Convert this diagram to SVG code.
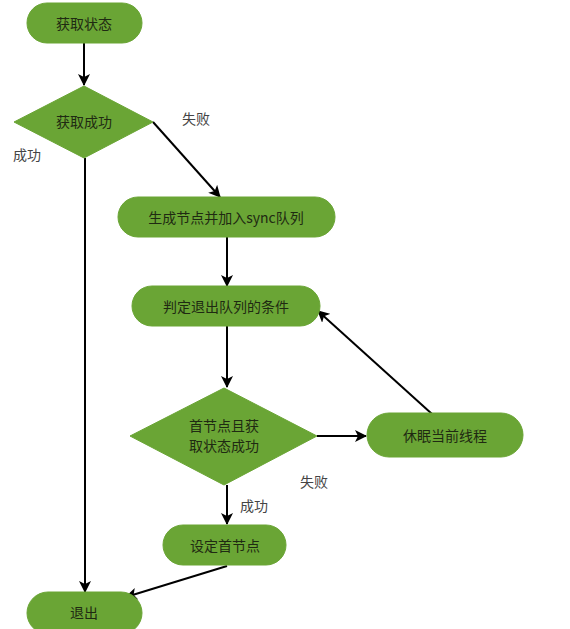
<svg xmlns="http://www.w3.org/2000/svg" width="570" height="629" viewBox="0 0 570 629">
<defs>
<marker id="arr" markerWidth="12" markerHeight="12" refX="11" refY="6" orient="auto" markerUnits="userSpaceOnUse">
<path d="M0,0 L12,6 L0,12 L3,6 Z" fill="#000"/>
</marker>
<style>
.n{fill:#6aa535;stroke:#6aa535}
.t{font-family:"Noto Sans CJK SC","Noto Sans",sans-serif;font-size:14px;fill:#1f2a12;text-anchor:middle;dominant-baseline:central}
.l{font-family:"Noto Sans CJK SC","Noto Sans",sans-serif;font-size:14px;fill:#444;text-anchor:middle;dominant-baseline:central}
.c{stroke:#000;stroke-width:2;fill:none;marker-end:url(#arr)}
</style>
</defs>
<rect width="570" height="629" fill="#fff"/>
<g id="connectors">
<line class="c" x1="84" y1="43" x2="84" y2="85"/>
<line class="c" x1="153" y1="122" x2="220" y2="197"/>
<line class="c" x1="85" y1="158" x2="85" y2="592"/>
<line class="c" x1="227" y1="237" x2="227" y2="286"/>
<line class="c" x1="227" y1="326" x2="227" y2="387"/>
<line class="c" x1="317" y1="436" x2="366" y2="436"/>
<line class="c" x1="432" y1="414" x2="318" y2="311"/>
<line class="c" x1="227" y1="485" x2="227" y2="524"/>
<line class="c" x1="227" y1="566" x2="126" y2="597"/>
</g>
<g id="n1"><rect class="n" x="27" y="3" width="115" height="40" rx="20"/><text class="t" x="84" y="23">获取状态</text></g>
<g id="n2"><polygon class="n" points="84,86 153,122 84,158 14,122"/><text class="t" x="84" y="121">获取成功</text></g>
<g id="n3"><rect class="n" x="118" y="197" width="217" height="40" rx="20"/><text class="t" x="226" y="217">生成节点并加入sync队列</text></g>
<g id="n4"><rect class="n" x="132" y="286" width="188" height="40" rx="20"/><text class="t" x="226" y="306">判定退出队列的条件</text></g>
<g id="n5"><polygon class="n" points="224,388 317,436 224,485 130,436"/><text class="t" x="224" y="425">首节点且获</text><text class="t" x="224" y="445">取状态成功</text></g>
<g id="n6"><rect class="n" x="367" y="413" width="156" height="44" rx="22"/><text class="t" x="445" y="435">休眠当前线程</text></g>
<g id="n7"><rect class="n" x="163" y="525" width="123" height="40" rx="20"/><text class="t" x="225" y="545">设定首节点</text></g>
<g id="n8"><rect class="n" x="27" y="592" width="115" height="42" rx="21"/><text class="t" x="84" y="612">退出</text></g>
<g id="labels">
<text class="l" x="196" y="118">失败</text>
<text class="l" x="27" y="154">成功</text>
<text class="l" x="314" y="481">失败</text>
<text class="l" x="254" y="505">成功</text>
</g>
</svg>
